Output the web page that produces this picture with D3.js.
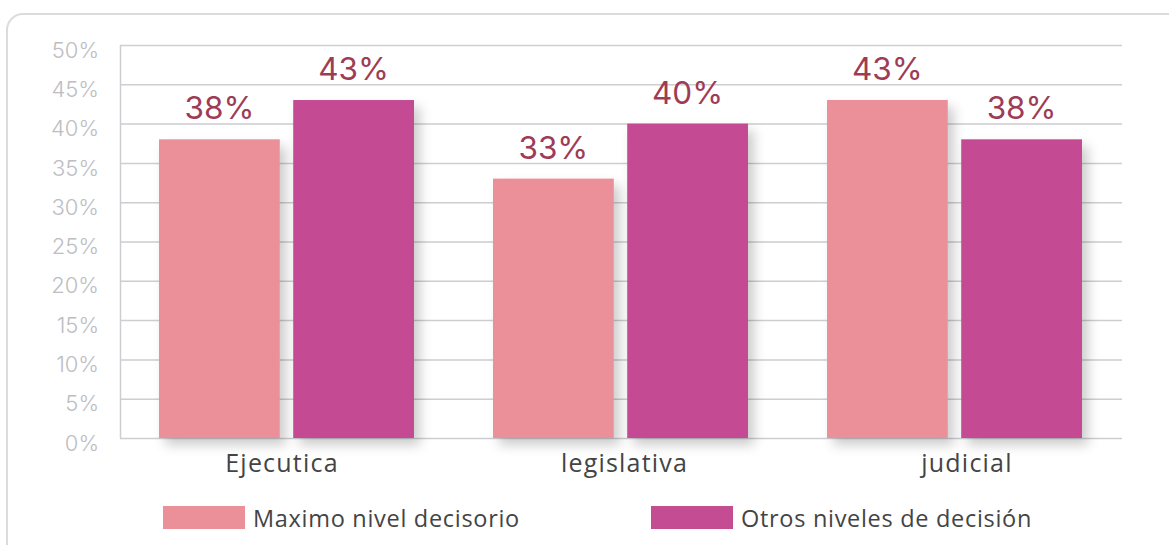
<!DOCTYPE html>
<html>
<head>
<meta charset="utf-8">
<script src="https://cdn.jsdelivr.net/npm/d3@7"></script>
<style>
    body { margin: 0; background: #fff; font-family: 'Inter', 'Open Sans', sans-serif; }
</style>
</head>
<body>
<div id="chart"></div>
<script>
// Data
var categories = ['Ejecutica', 'legislativa', 'judicial'];
var seriesNames = ['Maximo nivel decisorio', 'Otros niveles de decisión'];
var maximoValues = [38, 33, 43];
var otrosValues = [43, 40, 38];
var yTicks = [0, 5, 10, 15, 20, 25, 30, 35, 40, 45, 50];
var colors = ['#eb8f99', '#c44c93'];

var svgWidth = 1169;
var svgHeight = 545;

var svg = d3.select('#chart')
    .append('svg')
    .attr('width', svgWidth)
    .attr('height', svgHeight);

// Shadow filter for bars
var defs = svg.append('defs');
var shadow = defs.append('filter')
    .attr('id', 'shadow')
    .attr('x', '-20%').attr('y', '-20%')
    .attr('width', '150%').attr('height', '150%');
shadow.append('feDropShadow')
    .attr('dx', 6).attr('dy', 7)
    .attr('stdDeviation', 6)
    .attr('flood-color', '#000')
    .attr('flood-opacity', 0.2);

// Card outline
svg.append('rect')
    .attr('x', 7).attr('y', 14)
    .attr('width', 1200).attr('height', 560)
    .attr('rx', 16)
    .attr('fill', 'none')
    .attr('stroke', '#dcdcdf')
    .attr('stroke-width', 2);

var margin = { top: 45, left: 120, right: 47, bottom: 107 };
var chartWidth = svgWidth - margin.left - margin.right;
var chartHeight = svgHeight - margin.top - margin.bottom;

var chartGroup = svg.append('g')
    .attr('transform', `translate(${margin.left}, ${margin.top})`);

var xScale = d3.scaleBand()
    .domain(categories)
    .range([0, chartWidth]);

var innerScale = d3.scaleBand()
    .domain([0, 1])
    .range([39, 294])
    .paddingInner(0.1);

// category labels sit slightly off the bar groups
var labelScale = d3.scalePoint()
    .domain(categories)
    .range([162, 847]);

var yScale = d3.scaleLinear()
    .domain([0, 50])
    .range([chartHeight, 0]);

// Gridlines
chartGroup.selectAll('.grid')
    .data(yTicks)
    .enter()
    .append('line')
    .attr('x1', 0)
    .attr('x2', chartWidth)
    .attr('y1', (d) => yScale(d) + 0.5)
    .attr('y2', (d) => yScale(d) + 0.5)
    .attr('stroke', '#cdcdd2')
    .attr('stroke-width', 1.5);

chartGroup.append('line')
    .attr('x1', 0.5).attr('x2', 0.5)
    .attr('y1', 0).attr('y2', chartHeight)
    .attr('stroke', '#cdcdd2')
    .attr('stroke-width', 1.5);

// Y tick labels
var leftAxis = d3.axisLeft(yScale)
    .tickValues(yTicks)
    .tickSize(0)
    .tickPadding(21)
    .tickFormat((d) => d + '%');

var yAxis = chartGroup.append('g').call(leftAxis);
yAxis.select('.domain').remove();
yAxis.selectAll('text')
    .attr('fill', '#bdbdc3')
    .attr('dy', '0.55em')
    .style('font-size', '22px')
    .style('font-weight', 300)
    .style('font-family', "'Inter', sans-serif");

// Bars
var rows = categories.map((c, i) => ({ cat: c, values: [maximoValues[i], otrosValues[i]] }));

var groups = chartGroup.selectAll('.group')
    .data(rows)
    .enter()
    .append('g')
    .attr('transform', (d) => `translate(${xScale(d.cat)}, 0)`);

groups.selectAll('rect')
    .data((d) => d.values.map((v, j) => ({ v: v, j: j })))
    .enter()
    .append('rect')
    .attr('x', (d) => innerScale(d.j))
    .attr('y', (d) => yScale(d.v))
    .attr('width', innerScale.bandwidth())
    .attr('height', (d) => chartHeight - yScale(d.v))
    .attr('fill', (d) => colors[d.j])
    .attr('filter', 'url(#shadow)');

groups.selectAll('.val')
    .data((d) => d.values.map((v, j) => ({ v: v, j: j })))
    .enter()
    .append('text')
    .attr('x', (d) => innerScale(d.j) + innerScale.bandwidth() / 2)
    .attr('y', (d) => yScale(d.v) - 20)
    .attr('text-anchor', 'middle')
    .attr('fill', '#9e3c56')
    .style('font-size', '31.5px')
    .style('font-family', "'Inter', sans-serif")
    .text((d) => d.v + '%');

// X labels
chartGroup.selectAll('.xlabel')
    .data(categories)
    .enter()
    .append('text')
    .attr('x', (d) => labelScale(d))
    .attr('y', chartHeight + 34)
    .attr('text-anchor', 'middle')
    .attr('fill', '#444')
    .style('font-size', '25px')
    .style('font-weight', 500)
    .style('letter-spacing', '1.2px')
    .style('font-family', "'Open Sans', sans-serif")
    .text((d) => d);

// Legend
var legendX = [163, 651];
var legend = svg.selectAll('.legend')
    .data(seriesNames)
    .enter()
    .append('g')
    .attr('transform', (d, i) => `translate(${legendX[i]}, 506)`);

legend.append('rect')
    .attr('width', 82)
    .attr('height', 23)
    .attr('fill', (d, i) => colors[i]);

legend.append('text')
    .attr('x', 90)
    .attr('y', 21)
    .attr('fill', '#444')
    .style('font-size', '23.5px')
    .style('letter-spacing', '0.7px')
    .style('font-family', "'Open Sans', sans-serif")
    .text((d) => d);
</script>
</body>
</html>
